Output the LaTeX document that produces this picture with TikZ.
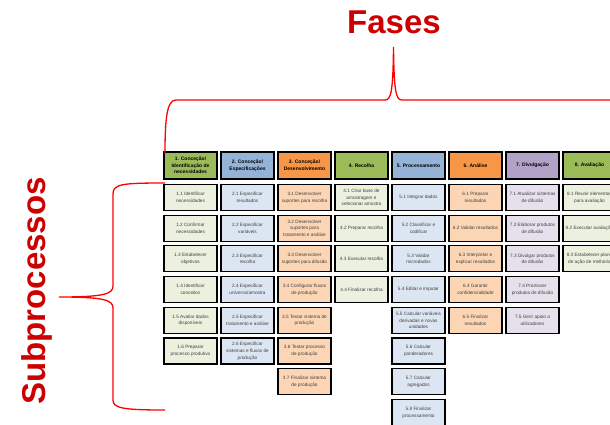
\documentclass[tikz,border=0pt]{standalone}
\usepackage{fontspec}
\setmainfont{Liberation Sans}
\definecolor{hgreen}{HTML}{9BBB59}
\definecolor{hblue}{HTML}{95B3D7}
\definecolor{horange}{HTML}{F79646}
\definecolor{hpurple}{HTML}{B3A2C7}
\definecolor{sgreen}{HTML}{EBF1DE}
\definecolor{sblue}{HTML}{DCE6F2}
\definecolor{sorange}{HTML}{FCD5B5}
\definecolor{spurple}{HTML}{E6E0EC}
\definecolor{titlered}{HTML}{CC0000}
\tikzset{
  hdr/.style={draw=black, line width=1.4pt, minimum width=53pt, minimum height=27pt,
    inner sep=1pt, align=center, font=\fontsize{5}{6.6}\selectfont\bfseries},
  sub/.style={draw=black, line width=1.1pt, minimum width=53pt, minimum height=26pt,
    inner sep=1pt, align=center, text=black!75, font=\fontsize{4.7}{6.8}\selectfont},
  brace/.style={draw=red, line width=1.3pt},
  bigred/.style={text=titlered, inner sep=0pt, font=\fontsize{33}{33}\selectfont\bfseries}
}
\begin{document}
\begin{tikzpicture}[x=1pt,y=-1pt]
\useasboundingbox (0,0) rectangle (610,424);
\clip (0,0) rectangle (610,424);

% titles
\node[bigred] (fases) at (394,22) {Fases};
\node[bigred, rotate=90] (subp) at (37,291) {Subprocessos};

% phase headers
\node[hdr, fill=hgreen]  (h1) at (190.5,165.5) {1. Conceção/\\Identificação de\\necessidades};
\node[hdr, fill=hblue]   (h2) at (247.5,165.5) {2. Conceção/\\Especificações};
\node[hdr, fill=horange] (h3) at (304.5,165.5) {3. Conceção/\\Desenvolvimento};
\node[hdr, fill=hgreen]  (h4) at (361.5,165.5) {4. Recolha};
\node[hdr, fill=hblue]   (h5) at (418.5,165.5) {5. Processamento};
\node[hdr, fill=horange] (h6) at (475.5,165.5) {6. Análise};
\node[hdr, fill=hpurple] (h7) at (532.5,165.5) {7. Divulgação};
\node[hdr, fill=hgreen]  (h8) at (589.5,165.5) {8. Avaliação};

% subprocesses, one column per phase
\foreach \t [count=\r] in {
  {1.1 Identificar\\necessidades},
  {1.2 Confirmar\\necessidades},
  {1.3 Estabelecer\\objetivos},
  {1.4 Identificar\\conceitos},
  {1.5 Avaliar dados\\disponíveis},
  {1.6 Preparar\\processo produtivo}}
  \node[sub, fill=sgreen] (s1-\r) at (190.5,{197.5+30.7*(\r-1)}) {\t};

\foreach \t [count=\r] in {
  {2.1 Especificar\\resultados},
  {2.2 Especificar\\variáveis},
  {2.3 Especificar\\recolha},
  {2.4 Especificar\\universo/amostra},
  {2.5 Especificar\\tratamento e análise},
  {2.6 Especificar\\sistemas e fluxos de\\produção}}
  \node[sub, fill=sblue] (s2-\r) at (247.5,{197.5+30.7*(\r-1)}) {\t};

\foreach \t [count=\r] in {
  {3.1 Desenvolver\\suportes para recolha},
  {3.2 Desenvolver\\suportes para\\tratamento e análise},
  {3.3 Desenvolver\\suportes para difusão},
  {3.4 Configurar fluxos\\de produção},
  {3.5 Testar sistema de\\produção},
  {3.6 Testar processo\\de produção},
  {3.7 Finalizar sistema\\de produção}}
  \node[sub, fill=sorange] (s3-\r) at (304.5,{197.5+30.7*(\r-1)}) {\t};

\foreach \t [count=\r] in {
  {4.1 Criar base de\\amostragem e\\selecionar amostra},
  {4.2 Preparar recolha},
  {4.3 Executar recolha},
  {4.4 Finalizar recolha}}
  \node[sub, fill=sgreen] (s4-\r) at (361.5,{197.5+30.7*(\r-1)}) {\t};

\foreach \t [count=\r] in {
  {5.1 Integrar dados},
  {5.2 Classificar e\\codificar},
  {5.3 Validar\\microdados},
  {5.4 Editar e imputar},
  {5.5 Calcular variáveis\\derivadas e novas\\unidades},
  {5.6 Calcular\\ponderadores},
  {5.7 Calcular\\agregados},
  {5.8 Finalizar\\processamento}}
  \node[sub, fill=sblue] (s5-\r) at (418.5,{197.5+30.7*(\r-1)}) {\t};

\foreach \t [count=\r] in {
  {6.1 Preparar\\resultados},
  {6.2 Validar resultados},
  {6.3 Interpretar e\\explicar resultados},
  {6.4 Garantir\\confidencialidade},
  {6.5 Finalizar\\resultados}}
  \node[sub, fill=sorange] (s6-\r) at (475.5,{197.5+30.7*(\r-1)}) {\t};

\foreach \t [count=\r] in {
  {7.1 Atualizar sistemas\\de difusão},
  {7.2 Elaborar produtos\\de difusão},
  {7.3 Divulgar produtos\\de difusão},
  {7.4 Promover\\produtos de difusão},
  {7.5 Gerir apoio a\\utilizadores}}
  \node[sub, fill=spurple] (s7-\r) at (532.5,{197.5+30.7*(\r-1)}) {\t};

\foreach \t [count=\r] in {
  {8.1 Reunir elementos\\para avaliação},
  {8.2 Executar avaliação},
  {8.3 Estabelecer plano\\de ação de melhoria}}
  \node[sub, fill=sgreen] (s8-\r) at (589.5,{197.5+30.7*(\r-1)}) {\t};

% brace over the phases
\draw[brace] (165,153) .. controls (165,118) and (167,100) .. (176,100)
  -- (385,100) .. controls (391,100) and (393,92) .. (393.5,47)
  .. controls (394,92) and (396,100) .. (402,100) -- (615,100);

% brace beside the subprocesses
\draw[brace] (165,183) .. controls (122,183) and (113,184) .. (113,194)
  -- (113,286) .. controls (113,294) and (104,297) .. (59,297)
  .. controls (104,297) and (113,300) .. (113,308)
  -- (113,400) .. controls (113,408) and (122,410) .. (165,410);
\end{tikzpicture}
\end{document}
